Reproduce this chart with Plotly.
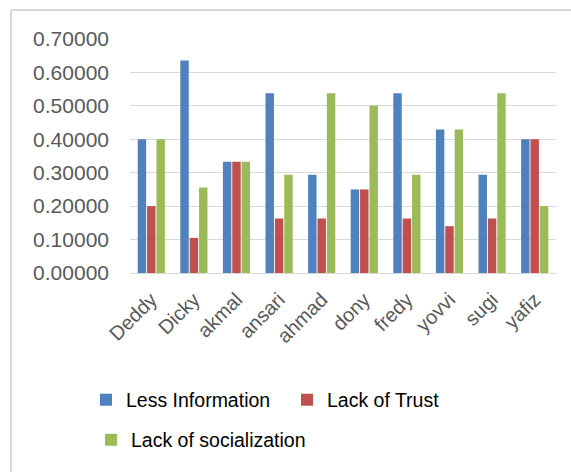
import plotly.graph_objects as go

categories = ["Deddy", "Dicky", "akmal", "ansari", "ahmad", "dony", "fredy", "yovvi", "sugi", "yafiz"]
less_information = [0.400, 0.636, 0.333, 0.538, 0.294, 0.250, 0.538, 0.429, 0.294, 0.400]
lack_of_trust = [0.200, 0.105, 0.333, 0.163, 0.163, 0.250, 0.163, 0.140, 0.163, 0.400]
lack_of_socialization = [0.400, 0.256, 0.333, 0.294, 0.538, 0.500, 0.294, 0.429, 0.538, 0.200]
y_ticks = [0.0, 0.1, 0.2, 0.3, 0.4, 0.5, 0.6, 0.7]

W, H = 571, 472
ML, MR, MT, MB = 130, 15, 39, 199
PW = W - ML - MR
PH = H - MT - MB

def px_x(x):
    return (x - ML) / PW

def px_y(y):
    return (H - MB - y) / PH

fig = go.Figure()
fig.add_trace(go.Bar(x=categories, y=less_information, name="Less Information",
                     marker=dict(color="#4F81BD", line=dict(width=0)), legend="legend"))
fig.add_trace(go.Bar(x=categories, y=lack_of_trust, name="Lack of Trust",
                     marker=dict(color="#C0504D", line=dict(width=0)), legend="legend"))
fig.add_trace(go.Bar(x=categories, y=lack_of_socialization, name="Lack of socialization",
                     marker=dict(color="#9BBB59", line=dict(width=0)), legend="legend2"))

border = "#d9d9d9"
fig.add_shape(type="line", xref="paper", yref="paper", x0=px_x(11), x1=px_x(575),
              y0=px_y(10), y1=px_y(10), line=dict(color=border, width=2))
fig.add_shape(type="line", xref="paper", yref="paper", x0=px_x(11), x1=px_x(11),
              y0=px_y(10), y1=px_y(476), line=dict(color=border, width=2))

fig.update_layout(
    width=W, height=H,
    margin=dict(l=ML, r=MR, t=MT, b=MB, autoexpand=False),
    paper_bgcolor="white", plot_bgcolor="white",
    font=dict(family="Liberation Sans", size=19, color="black"),
    barmode="group", bargap=0.34, bargroupgap=0.1,
    xaxis=dict(tickangle=-45, showgrid=False, showline=False, ticks="",
               ticklabelstandoff=10,
               tickfont=dict(size=20, color="#595959")),
    yaxis=dict(range=[0, 0.7], tickvals=y_ticks, tickformat=".5f",
               showgrid=True, gridcolor="#d9d9d9", gridwidth=1,
               zeroline=True, zerolinecolor="#d9d9d9", zerolinewidth=1,
               showline=False, ticks="", ticklabelstandoff=20,
               tickfont=dict(size=21, color="#595959")),
    legend=dict(orientation="h", x=px_x(86), xanchor="left", y=px_y(400), yanchor="middle",
                entrywidth=156, font=dict(size=19.5, color="black"), bgcolor="rgba(0,0,0,0)"),
    legend2=dict(orientation="h", x=px_x(91), xanchor="left", y=px_y(440), yanchor="middle",
                 font=dict(size=19.5, color="black"), bgcolor="rgba(0,0,0,0)"),
)

fig.write_html("out.html", config={"displayModeBar": False},
               post_script="document.body.style.margin='0';")
